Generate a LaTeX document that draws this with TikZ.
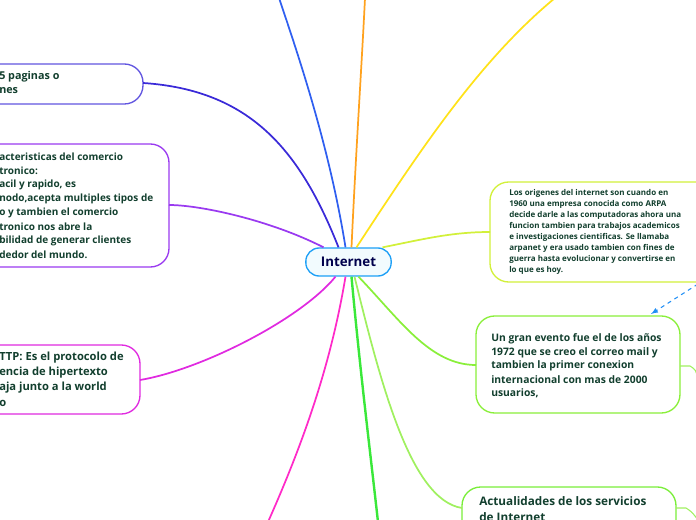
\documentclass[tikz,border=0pt]{standalone}
\usepackage{fontspec}
\setmainfont{Open Sans}[UprightFont=* Regular,BoldFont=* Bold]
\definecolor{tx}{HTML}{123F2E}
\definecolor{cblue}{HTML}{2F5FF0}
\definecolor{corange}{HTML}{FFA21E}
\definecolor{cyellow}{HTML}{FFE21A}
\definecolor{cindigo}{HTML}{3A2AD8}
\definecolor{cpurple}{HTML}{9A3AF0}
\definecolor{cyg}{HTML}{D2F03A}
\definecolor{cmag}{HTML}{E02AE0}
\definecolor{cpink}{HTML}{FF2AC8}
\definecolor{cgreen}{HTML}{3AE83A}
\definecolor{cgreen2}{HTML}{8AEF3A}
\definecolor{cgreen3}{HTML}{A0F060}
\begin{document}
\begin{tikzpicture}[x=0.75pt,y=-0.75pt,
  box/.style={draw,rounded corners=14pt,line width=1pt,fill=white},
  tl/.style={anchor=west,text=tx,inner sep=0pt},
  con/.style={line width=1.3pt}]
\useasboundingbox (0,0) rectangle (696,520);
\clip (0,0) rectangle (696,520);
% center
\node[draw=cblue!60!cyan,fill=cyan!5,line width=1pt,rounded corners=10pt,minimum width=64pt,minimum height=21pt,font=\bfseries\fontsize{10}{11}\selectfont,text=blue!30!black] (c) at (348.5,262) {Internet};
\coordinate (t1) at (279,-2);
\coordinate (t2) at (365,-2);
\coordinate (t3) at (555,-2);
\coordinate (b1) at (268,522);
\coordinate (b2) at (378,522);
% boxes
\draw[box,draw=cindigo!80] (-30,64) rectangle (143,104);
\coordinate (n1) at (143,83);
\node[tl,font=\bfseries\fontsize{8.1}{11}\selectfont] at (-1,77) {5 paginas o};
\node[tl,font=\bfseries\fontsize{8.1}{11}\selectfont] at (-1,91) {nes};
\draw[box,draw=cpurple] (-30,144) rectangle (169,267);
\coordinate (n2) at (169,205);
\foreach \t [count=\i] in {acteristicas del comercio,tronico:,{acil y rapido, es},{nodo,acepta multiples tipos de},o y tambien el comercio,tronico nos abre la,bilidad de generar clientes,dedor del mundo.}
  \node[tl,font=\bfseries\fontsize{7.5}{8}\selectfont] at (-1,157+14*\i-14) {\t};
\draw[box,draw=cmag] (-30,345) rectangle (140,414);
\coordinate (n3) at (140,380);
\foreach \t [count=\i] in {TTP: Es el protocolo de,encia de hipertexto,aja junto a la world,o}
  \node[tl,font=\bfseries\fontsize{8.4}{9}\selectfont] at (-1,358+15*\i-15) {\t};
\draw[box,draw=cyg] (490,182) rectangle (720,282);
\coordinate (n4) at (490,232);
\foreach \t [count=\i] in {Los origenes del internet son cuando en,1960 una empresa conocida como ARPA,decide darle a las computadoras ahora una,funcion tambien para trabajos academicos,e investigaciones cientificas. Se llamaba,arpanet y era usado tambien con fines de,guerra hasta evolucionar y convertirse en,lo que es hoy.}
  \node[tl,font=\bfseries\fontsize{6}{6}\selectfont] at (509,193+11*\i-11) {\t};
\draw[box,draw=cgreen2] (476,316) rectangle (680,413);
\coordinate (n5) at (476,365);
\foreach \t [count=\i] in {Un gran evento fue el de los años,1972 que se creo el correo mail y,tambien la primer conexion,internacional con mas de 2000,{usuarios,}}
  \node[tl,font=\bfseries\fontsize{7.75}{8}\selectfont] at (491,339+13.5*\i-13.5) {\t};
\draw[box,draw=cgreen2!80!cgreen] (462,487) rectangle (676,545);
\coordinate (n6) at (462,508);
\node[tl,font=\bfseries\fontsize{8.8}{9}\selectfont] at (479,501) {Actualidades de los servicios};
\node[tl,font=\bfseries\fontsize{8.8}{9}\selectfont] at (479,517) {de Internet};
% connectors
\draw[con,cblue] (c.north)+(-3,0) .. controls (330,150) and (300,60) .. (t1);
\draw[con,corange] (c.north)+(3,0) .. controls (356,150) and (362,60) .. (t2);
\draw[con,cyellow] (c.north)+(8,0) .. controls (420,150) and (480,60) .. (t3);
\draw[con,cindigo] (c.north)+(-10,0) .. controls (300,150) and (250,90) .. (n1);
\draw[con,cpurple] (c.north)+(-25,0) .. controls (270,220) and (200,205) .. (n2);
\draw[con,cyg] (c.north)+(34,0) .. controls (420,240) and (450,232) .. (n4);
\draw[con,cmag] (c.south)+(-13,0) .. controls (300,320) and (200,370) .. (n3);
\draw[con,cpink] (c.south)+(-3,0) .. controls (330,370) and (300,450) .. (b1);
\draw[con,cgreen,line width=1.8pt] (c.south)+(3,0) .. controls (360,370) and (370,450) .. (b2);
\draw[con,cgreen2] (c.south)+(10,0) .. controls (400,320) and (430,365) .. (n5);
\draw[con,cgreen3] (c.south)+(6,0) .. controls (380,380) and (410,500) .. (n6);
\draw[con,cgreen3,line width=0.8pt] (680,366) -- (690,366) .. controls (696,370) .. (698,380);
\draw[con,cgreen3,line width=0.8pt] (676,508) -- (686,508) .. controls (692,512) .. (698,520);
\draw[dashed,cblue!70!cyan,line width=0.8pt,-latex] (698,284) -- (651,314);
\end{tikzpicture}
\end{document}
